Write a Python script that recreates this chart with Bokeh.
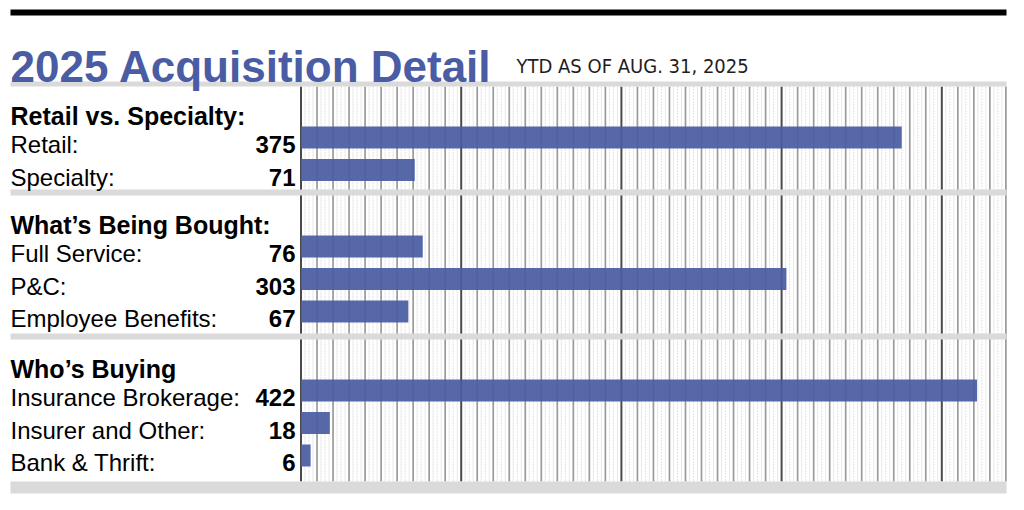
import numpy as np
from bokeh.plotting import figure
from bokeh.models import Range1d
from bokeh.core.properties import value
from bokeh.embed import file_html
from bokeh.resources import INLINE

# ---------------- data ----------------
title = "2025 Acquisition Detail"
subtitle = "YTD AS OF AUG. 31, 2025"
groups = ["Retail vs. Specialty:", "What\u2019s Being Bought:", "Who\u2019s Buying"]
categories = ["Retail:", "Specialty:", "Full Service:", "P&C:", "Employee Benefits:",
              "Insurance Brokerage:", "Insurer and Other:", "Bank & Thrift:"]
values = [375, 71, 76, 303, 67, 422, 18, 6]
group_of = [0, 0, 1, 1, 1, 2, 2, 2]
x_max = 440

# ---------------- layout helpers ----------------
W, H = 1008, 494
X0_PX = 300.5     # image x of value 0
SCALE = 1.602     # px per unit


def px(x):
    return (x - X0_PX) / SCALE


BLUE = "#4a5ca3"
BAND = "#d9dad9"
FONT = value("Liberation Sans")

p = figure(width=W, height=H, output_backend="svg", toolbar_location=None,
           x_range=Range1d(px(0), px(W)), y_range=Range1d(H, 0),
           min_border=0, outline_line_color=None,
           background_fill_color="white", border_fill_color="white")
p.xaxis.visible = False
p.yaxis.visible = False
p.xgrid.visible = False
p.ygrid.visible = False

# group geometry
group_start = [86, 195, 339]
band_top = [81, 189, 333, 481]
band_h = [5, 6, 6, 12]
ROW = 32.5
row_y = []
cnt = {}
for g in group_of:
    k = cnt.get(g, 0)
    row_y.append(group_start[g] + 51 + k * ROW)
    cnt[g] = k + 1

grid_top, grid_bot = 86, 481

# light lines
light = np.concatenate([np.arange(2.5, x_max, 10), np.arange(7.5, x_max, 10)])
p.segment(x0=light, x1=light, y0=grid_top, y1=grid_bot, line_color="#e8e8e8", line_width=1)
# dotted lines
dots = np.arange(5, x_max, 10)
p.segment(x0=dots, x1=dots, y0=grid_top, y1=grid_bot, line_color="#c4c4c4",
          line_width=1, line_dash="1 2")
# medium lines
med = np.array([v for v in range(0, x_max + 1, 10) if v % 100 != 0])
p.segment(x0=med, x1=med, y0=grid_top, y1=grid_bot, line_color="#9a9a9a", line_width=1.7)
# dark lines
dark = np.arange(0, x_max + 1, 100)
p.segment(x0=dark, x1=dark, y0=grid_top, y1=grid_bot, line_color="#4a4a4a", line_width=2)

# bands
p.quad(left=px(10), right=px(1006), top=[t for t in band_top],
       bottom=[t + h for t, h in zip(band_top, band_h)], fill_color=BAND, line_color=None)
# top black rule
p.quad(left=px(10), right=px(1006), top=9, bottom=15, fill_color="black", line_color=None)

# bars
p.hbar(y=row_y, left=0, right=values, height=22, fill_color=BLUE, fill_alpha=0.93,
       line_color=None)

# title & subtitle
p.text(x=[px(10)], y=[66], text=[title], text_font=FONT, text_font_style="bold",
       text_font_size="44px", text_color=BLUE, text_baseline="alphabetic")
p.text(x=[px(516)], y=[65], text=[subtitle], text_font=value("DejaVu Sans Condensed"),
       text_font_size="20px", text_color="#1e1e1e", text_baseline="alphabetic")

# group headers
p.text(x=[px(10)] * 3, y=[s + 29 for s in group_start], text=groups, text_font=FONT,
       text_font_style="bold", text_font_size="25px", text_color="black",
       text_baseline="alphabetic")
# category labels
p.text(x=[px(10)] * len(categories), y=[y + 7 for y in row_y], text=categories,
       text_font=FONT, text_font_size="24px", text_color="black", text_baseline="alphabetic")
# values
p.text(x=[px(295)] * len(values), y=[y + 7 for y in row_y], text=[str(v) for v in values],
       text_font=FONT, text_font_style="bold", text_font_size="24px", text_color="black",
       text_align="right", text_baseline="alphabetic")

open("out.html", "w").write(file_html(p, INLINE))
